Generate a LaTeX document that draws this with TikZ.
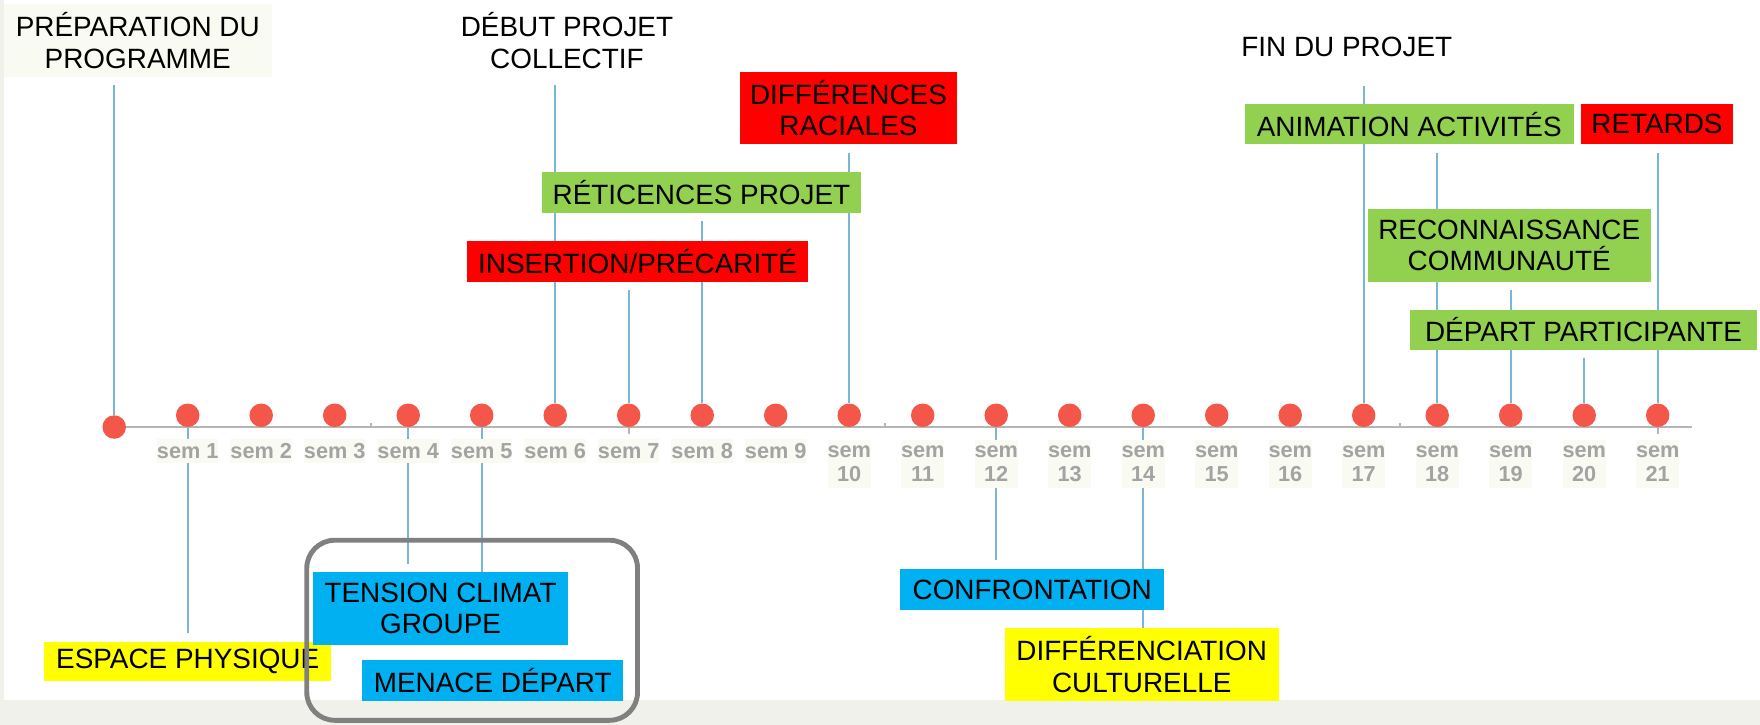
\documentclass[tikz,border=0pt]{standalone}
\usepackage{fontspec}
\setmainfont{Liberation Sans}
\definecolor{dotred}{HTML}{F5564A}
\definecolor{connblue}{HTML}{78B7D6}
\definecolor{axisgrey}{HTML}{B5B5B5}
\definecolor{semback}{HTML}{F9FAF2}
\definecolor{semgrey}{HTML}{A3A3A3}
\definecolor{boxred}{HTML}{FF0000}
\definecolor{boxgreen}{HTML}{92D050}
\definecolor{boxblue}{HTML}{00B0F0}
\definecolor{boxyellow}{HTML}{FFFF00}
\definecolor{framegrey}{HTML}{808080}
\definecolor{paper}{HTML}{EFF1EA}
\pgfdeclarelayer{bg}
\pgfdeclarelayer{lines}
\pgfsetlayers{bg,lines,main}

\tikzset{
    dot/.style={circle,fill=dotred,inner sep=0pt,minimum size=0.32cm},
    semlbl/.style={fill=semback,text=semgrey,font=\bfseries\fontsize{8.4}{9.3}\selectfont,
        inner sep=0pt,minimum width=0.83cm,minimum height=0.33cm,align=center},
    evt/.style={inner sep=0pt,align=center,font=\fontsize{10.8}{12.2}\selectfont},
    redbox/.style={evt,fill=boxred},
    greenbox/.style={evt,fill=boxgreen},
    bluebox/.style={evt,fill=boxblue},
    yellowbox/.style={evt,fill=boxyellow},
    conn/.style={draw=connblue,line width=0.65pt,shorten >=0.11cm},
    axisline/.style={draw=axisgrey,line width=0.7pt},
}

\begin{document}
\begin{tikzpicture}
        \useasboundingbox (-1.554,-4.054) rectangle (22.392,5.810);
        \begin{pgfonlayer}{bg}
            \fill[paper] (-1.554,-4.054) rectangle (22.392,5.810);
            \fill[white] (-1.50,-3.71) rectangle (22.392,5.810);
        \end{pgfonlayer}

        % weeks
        \node[dot] (d0) at (0,0) {};
        \foreach \k in {1,...,21}{
            \node[dot] (d\k) at (\k,0.16) {};
        }
        \coordinate (axisend) at (21.47,0);
        \foreach \k in {1,...,9}{
            \node[semlbl] (s\k) at (\k,-0.33) {sem \k};
        }
        \foreach \k in {10,...,21}{
            \node[semlbl,minimum width=0.59cm,minimum height=0.65cm] (s\k) at (\k,-0.50) {sem\\\k};
        }

        % above the line
        \node[evt,fill=semback,minimum width=3.65cm,minimum height=0.99cm] (prep) at (0.32,5.26) {PRÉPARATION DU\\PROGRAMME};
        \node[evt,minimum width=3.0cm,minimum height=0.99cm] (debut) at (6.16,5.26) {DÉBUT PROJET\\COLLECTIF};
        \node[redbox,minimum width=2.95cm,minimum height=0.99cm] (diff) at (9.99,4.34) {DIFFÉRENCES\\RACIALES};
        \node[greenbox,minimum width=4.34cm,minimum height=0.55cm] (retic) at (7.99,3.19) {RÉTICENCES PROJET};
        \node[redbox,minimum width=4.65cm,minimum height=0.55cm] (insert) at (7.12,2.25) {INSERTION/PRÉCARITÉ};
        \node[evt,minimum width=3.0cm,minimum height=0.82cm] (fin) at (16.77,5.17) {FIN DU PROJET};
        \node[greenbox,minimum width=4.48cm,minimum height=0.55cm] (anim) at (17.62,4.12) {ANIMATION ACTIVITÉS};
        \node[redbox,minimum width=2.07cm,minimum height=0.55cm] (retards) at (20.99,4.12) {RETARDS};
        \node[greenbox,minimum width=3.85cm,minimum height=0.99cm] (recon) at (18.98,2.47) {RECONNAISSANCE\\COMMUNAUTÉ};
        \node[greenbox,minimum width=4.72cm,minimum height=0.54cm] (depart) at (19.99,1.32) {DÉPART PARTICIPANTE};

        % below the line
        \node[yellowbox,minimum width=3.90cm,minimum height=0.53cm] (espace) at (1.00,-3.19) {ESPACE PHYSIQUE};
        \node[bluebox,minimum width=3.47cm,minimum height=0.99cm] (tension) at (4.44,-2.47) {TENSION CLIMAT\\GROUPE};
        \node[bluebox,minimum width=3.55cm,minimum height=0.55cm] (menace) at (5.15,-3.45) {MENACE DÉPART};
        \node[bluebox,minimum width=3.59cm,minimum height=0.56cm] (confront) at (12.49,-2.21) {CONFRONTATION};
        \node[yellowbox,minimum width=3.73cm,minimum height=0.99cm] (diffcult) at (13.98,-3.23) {DIFFÉRENCIATION\\CULTURELLE};

        \draw[framegrey,line width=1.9pt,rounded corners=0.38cm] (2.62,-1.54) rectangle (7.12,-3.99);

        \begin{pgfonlayer}{lines}
            \draw[axisline] (d0.center) -- (axisend);
            \foreach \x in {3.49,10.49,17.49}{
                \draw[axisline] (\x,0) -- (\x,0.06);
            }
            \foreach \k in {7,21}{
                \draw[axisline] (\k,0) -- (\k,-0.09);
            }
            \draw[conn] (d0) -- (d0 |- prep.south);
            \draw[conn] (d6) -- (d6 |- debut.south);
            \draw[conn] (d7) -- (d7 |- insert.south);
            \draw[conn] (d8) -- (d8 |- retic.south);
            \draw[conn] (d10) -- (d10 |- diff.south);
            \draw[conn] (d17) -- (d17 |- fin.south);
            \draw[conn] (d18) -- (d18 |- anim.south);
            \draw[conn] (d19) -- (d19 |- recon.south);
            \draw[conn] (d20) -- (d20 |- depart.south);
            \draw[conn] (d21) -- (d21 |- retards.south);
            \draw[conn] (d1) -- (d1 |- espace.north);
            \draw[conn] (d4) -- (d4 |- tension.north);
            \draw[conn,shorten >=0pt] (d5) -- (d5 |- tension.north);
            \draw[conn] (d12) -- (d12 |- confront.north);
            \draw[conn,shorten >=0pt] (d14) -- (d14 |- diffcult.north);
        \end{pgfonlayer}
\end{tikzpicture}
\end{document}
